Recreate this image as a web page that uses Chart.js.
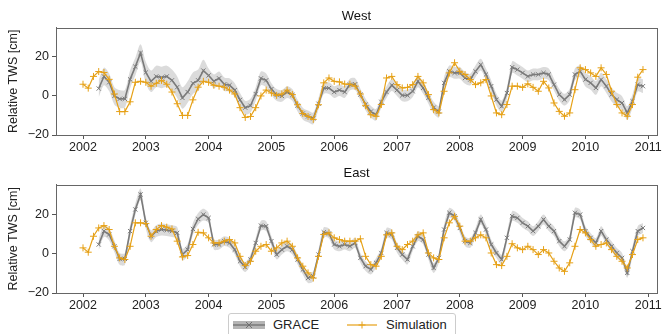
<!DOCTYPE html>
<html>
<head>
<meta charset="utf-8">
<script src="https://cdn.jsdelivr.net/npm/chart.js@4.4.1/dist/chart.umd.min.js"></script>
<style>
  body { margin: 0; background: #fff; font-family: "Liberation Sans", Arial, sans-serif; }
  #wrap { position: relative; width: 663px; height: 334px; overflow: hidden; }
  #wrap canvas { position: absolute; left: 0; }
  #legend { position: absolute; left: 228px; top: 313px; width: 226px; height: 26px;
            border: 1px solid #ccc; border-radius: 3px; background: #fff;
            font-size: 13px; color: #222; }
  #legend .lab { position: absolute; top: 3px; }
  #legend svg { position: absolute; top: 4px; }
</style>
</head>
<body>
<div id="wrap">
  <canvas id="westChart" width="663" height="160" style="top:0px"></canvas>
  <canvas id="eastChart" width="663" height="161" style="top:157px"></canvas>
  <div id="legend">
    <svg width="32" height="14" style="left:4px">
      <rect x="0" y="3" width="32" height="8" fill="#b5b5b5"></rect>
      <line x1="0" y1="7" x2="32" y2="7" stroke="#7a7a7a" stroke-width="1.5"></line>
      <path d="M13 4 L19 10 M19 4 L13 10" stroke="#6e6e6e" stroke-width="1"></path>
    </svg>
    <span class="lab" style="left:44px">GRACE</span>
    <svg width="30" height="14" style="left:118px">
      <line x1="0" y1="7" x2="30" y2="7" stroke="#e6a117" stroke-width="1.2"></line>
      <path d="M15 3.5 L15 10.5 M11.5 7 L18.5 7" stroke="#e6a117" stroke-width="1"></path>
    </svg>
    <span class="lab" style="left:157px">Simulation</span>
  </div>
</div>
<script>
// monthly values, Jan 2002 .. Dec 2010
const startYear = 2002;
const yearTicks = [2002, 2003, 2004, 2005, 2006, 2007, 2008, 2009, 2010, 2011];

const simWest = [
  6, 4, 10, 12.5, 12, 8.5, 1, -8, -8, -3, 7, 7.5,
  7, 5, 6.5, 8, 6, 2, -4, -10, -10, -2, 4.5, 7.5,
  7, 5.5, 5, 4.5, 3, 1, -6, -11, -10.5, -6, 0, 3,
  1.5, 0.3, 1, 3, 0.7, -4.5, -9, -10.5, -12, -4.5, 6.7, 9.2,
  7.5, 7.2, 6.1, 6, 5, 1, -5, -9.6, -10.4, -4.4, 9.2, 10,
  5.8, 4.1, 4.4, 5.8, 10, 6.7, 0.7, -7, -8.7, 2.4, 11.8, 17,
  12.6, 11, 8.4, 5.8, 6.7, 8.4, 0, -8.7, -9.6, -4.4, 5, 5,
  4.4, 6.2, 4.4, 2.4, 7.5, 4.1, -3.6, -7.9, -10.4, -8.7, 3.2, 14.4,
  13.5, 11.8, 10, 14.4, 11, 2.4, -4.4, -8.7, -10.4, -4.4, 9.6, 13.5
];
const graceWest = [
  null, null, null, 3.8, 10, 7, 0, -1.5, -1.5, 8.5, 15, 22,
  12, 7.5, 10, 9.5, 10, 8, 4.5, -1, 2, 6.5, 8, 13,
  10.5, 7.5, 9, 6, 5.5, 3, -2, -6, -5, 1, 9, 8,
  3.5, 0.5, 0, 2, 0.5, -5, -9, -10.5, -11.5, -4, 4, 4,
  2, 3, 2, 5.8, 6, 0.7, -4.4, -8, -9.6, -3, 2, 5.5,
  3, 0.3, 0.3, 2.4, 7.5, 4.1, -1, -6, -8, 6.7, 12.6, 11.8,
  11.8, 9.2, 8.4, 12.6, 16, 11, 5, -1.9, -5.3, 1.5, 14.7, 13.5,
  11.8, 10, 11, 11, 11.8, 11, 5.8, 0.7, -1.9, 0.7, 11, 12.6,
  8.4, 6.7, 4.1, 8.4, 5, 0.7, -1.9, -3.6, -8.7, -2.7, 5.8, 5
];
const simEast = [
  2.9, 0.7, 8.8, 13, 14.2, 12.2, 3.7, -2.2, -3, 3.7, 15.6, 15.6,
  15.2, 8.8, 12.2, 14.2, 13.4, 12.5, 6.3, -1.7, -1, 4.6, 10.8, 10.5,
  8, 5.4, 5.4, 6.3, 7.1, 5.4, -1.4, -6.1, -3.9, 1.2, 3.7, 4.6,
  1.2, 2.9, 5.4, 6.3, 3.7, -2.2, -6.4, -9.8, -12.4, -1.4, 9.7, 10.5,
  8, 7.1, 6.3, 6.3, 6.3, 7.5, -1.4, -5.6, -6.4, -1.4, 9.5, 10.5,
  3.7, 2, 4.6, 6.3, 9.5, 10.5, 0.3, -2.2, -3, 8, 15.6, 18.9,
  13.9, 6.3, 6.3, 8, 9.5, 8, 0.3, -5.6, -6.1, -1.4, 5, 2.9,
  2, 3.7, 2, -0.5, 2, 0.3, -3.9, -7.3, -9, -4.7, 3.7, 12.2,
  10.5, 7.1, 3.7, 4.6, 5.4, 2, -1.4, -3.9, -7.3, -0.5, 7.1, 8
];
const graceEast = [
  null, null, null, 4.6, 11.4, 9.7, 3.7, -2.7, -2.7, 11.4, 22.4, 30,
  15.6, 8.8, 11.4, 12.2, 11.9, 11.4, 10.5, -0.5, 2, 12.5, 17.6, 19.8,
  18.1, 4.6, 4.6, 6.3, 5.4, 2, -3.9, -6.8, -3, 5.4, 14.2, 13.9,
  6.3, -0.5, 2, 3.7, 2, -3, -8.1, -12.4, -11.5, -0.5, 10.8, 10.2,
  4.6, 3.7, 4.6, 3.7, 5.4, -2.2, -6.4, -8.1, -4.7, 0.3, 10.5, 9.7,
  2.9, -0.5, -3, 3.7, 8.8, 7.1, -0.5, -7.3, -2.2, 12.2, 20.7, 19,
  13, 6.3, 5.4, 10.5, 17.3, 12.2, 4.6, 0.3, -3, 8, 19, 18.1,
  15.6, 13.9, 11.4, 13.9, 17.3, 13.9, 11.4, 6.3, 3.7, 7.1, 20.7, 19.8,
  11.4, 8, 5.4, 11.4, 7.1, 3.7, 0.3, -2.2, -9.8, 1.2, 11.4, 13
];
// GRACE uncertainty (cm), one value per year 2002..2010
const errWest = [4.5, 5.5, 3.5, 3, 3, 3, 3, 3, 3.5];
const errEast = [3, 3, 2.5, 2.5, 2.5, 2.5, 2.5, 2.5, 2.5];

const orange = '#e6a117';
const gray = '#7a7a7a';

function toPoints(values) {
  return values.map((v, i) => ({ x: startYear + i / 12, y: v }));
}

function bandPoints(values, err, sign) {
  return values.map((v, i) => ({
    x: startYear + i / 12,
    y: v === null ? null : v + sign * err[Math.floor(i / 12)]
  }));
}

// draws the box around the plot area
const frame = {
  id: 'frame',
  afterDraw(chart) {
    const { ctx, chartArea: a } = chart;
    ctx.save();
    ctx.strokeStyle = '#666';
    ctx.lineWidth = 1;
    ctx.strokeRect(Math.round(a.left) + 0.5, Math.round(a.top) + 0.5,
                   Math.round(a.right - a.left), Math.round(a.bottom - a.top));
    ctx.restore();
  }
};

function makePanel(id, title, sim, grace, err) {
  return new Chart(document.getElementById(id), {
    type: 'line',
    data: {
      datasets: [
        {
          label: 'Simulation',
          data: toPoints(sim),
          borderColor: orange,
          borderWidth: 1.2,
          pointStyle: 'cross',
          pointRadius: 3.5,
          pointBorderColor: orange,
          pointBorderWidth: 1,
          fill: false
        },
        {
          label: 'GRACE',
          data: toPoints(grace),
          borderColor: gray,
          borderWidth: 1.6,
          pointStyle: 'crossRot',
          pointRadius: 3,
          pointBorderColor: gray,
          pointBorderWidth: 1,
          fill: false
        },
        {
          label: 'upper',
          data: bandPoints(grace, err, 1),
          borderWidth: 0,
          pointRadius: 0,
          tension: 0.3,
          backgroundColor: 'rgba(195,195,195,0.6)',
          fill: '+1'
        },
        {
          label: 'lower',
          data: bandPoints(grace, err, -1),
          borderWidth: 0,
          pointRadius: 0,
          tension: 0.3,
          fill: false
        }
      ]
    },
    options: {
      responsive: false,
      animation: false,
      layout: { padding: { right: 6 } },
      plugins: {
        legend: { display: false },
        tooltip: { enabled: false },
        title: {
          display: true,
          text: title,
          fullSize: false,
          color: '#111',
          font: { family: 'Liberation Sans', size: 13, weight: 'normal' },
          padding: { top: 9, bottom: 3 }
        }
      },
      scales: {
        x: {
          type: 'linear',
          min: 2001.57,
          max: 2011.14,
          afterFit: s => { s.height = 25; },
          afterBuildTicks: s => { s.ticks = yearTicks.map(v => ({ value: v })); },
          ticks: {
            callback: v => String(v),
            color: '#222',
            padding: 1,
            maxRotation: 0,
            font: { family: 'Liberation Sans', size: 12.5 }
          },
          grid: { drawOnChartArea: false, tickLength: 4, color: '#555' },
          border: { color: '#666' }
        },
        y: {
          min: -20,
          max: 35,
          afterFit: s => { s.width = 56; },
          ticks: {
            stepSize: 20,
            includeBounds: false,
            callback: v => (v < 0 ? '\u2212' + (-v) : String(v)),
            color: '#222',
            font: { family: 'Liberation Sans', size: 12.5 }
          },
          grid: { drawOnChartArea: false, tickLength: 4, color: '#555' },
          border: { color: '#666' },
          title: {
            display: true,
            text: 'Relative TWS [cm]',
            color: '#222',
            padding: { top: 6 },
            font: { family: 'Liberation Sans', size: 12.5 }
          }
        }
      }
    },
    plugins: [frame]
  });
}

makePanel('westChart', 'West', simWest, graceWest, errWest);
makePanel('eastChart', 'East', simEast, graceEast, errEast);
</script>
</body>
</html>
